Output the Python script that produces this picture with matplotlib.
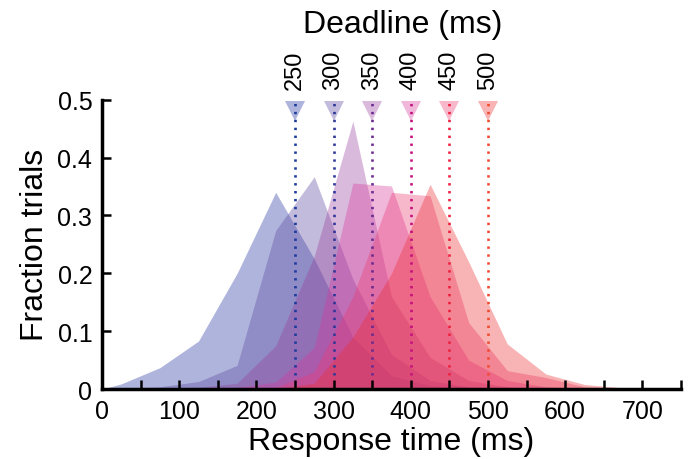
import matplotlib
matplotlib.use('Agg')
import matplotlib.pyplot as plt
import numpy as np

plt.rcParams['font.family'] = ['Liberation Sans', 'DejaVu Sans']

# response time bin centres (ms)
rt = [0, 25, 75, 125, 175, 225, 275, 325, 375, 425, 475, 525, 575, 625, 675, 725]

# fraction of trials for each deadline condition
frac250 = [0, .009, .037, .083, .200, .340, .225, .090, .023, .006, .002, 0, 0, 0, 0, 0]
frac300 = [0, .001, .004, .013, .041, .274, .367, .190, .060, .015, .004, .001, 0, 0, 0, 0]
frac350 = [0, 0, .001, .003, .010, .075, .230, .463, .160, .055, .015, .004, .001, 0, 0, 0]
frac400 = [0, 0, 0, .001, .003, .012, .072, .356, .351, .160, .050, .015, .004, .001, 0, 0]
frac450 = [0, 0, 0, 0, .001, .003, .030, .160, .340, .334, .115, .032, .020, .004, .001, 0]
frac500 = [0, 0, 0, 0, 0, .001, .010, .090, .200, .354, .220, .078, .026, .008, .002, 0]

deadlines = [250, 300, 350, 400, 450, 500]
fill_cols = ['#23319e', '#5b459e', '#98409e', '#d8389c', '#ec3a72', '#ec2f33']
line_cols = ['#1c3a9c', '#2e3698', '#6a2a90', '#c4107c', '#ee2040', '#f04a30']

fig = plt.figure(figsize=(6.92, 4.60), dpi=100)
ax = fig.add_axes([0.1474, 0.152, 0.8366, 0.629])

allfrac = [frac250, frac300, frac350, frac400, frac450, frac500]
for i in range(6):
	ax.fill_between(rt, 0, allfrac[i], color=fill_cols[i], alpha=0.36, lw=0)

for i in range(6):
	d = deadlines[i]
	ax.plot(d, 0.481, marker='v', ms=14, color=fill_cols[i], alpha=0.36,
		mew=0, clip_on=False, zorder=4)
	ax.plot([d, d], [0.025, 0.5], color=line_cols[i], lw=1.9,
		linestyle=(0, (0.9, 2.1)), zorder=5, clip_on=False)
	ax.text(d, 0.519, str(d), rotation=90, ha='center', va='bottom',
		fontsize=17)

ax.text(389, 0.617, 'Deadline (ms)', ha='center', va='baseline', fontsize=23)

ax.set_xlim(0, 750)
ax.set_ylim(0, 0.5)
xt = list(range(0, 751, 50))
ax.set_xticks(xt)
ax.set_xticklabels([str(v) if v % 100 == 0 and v < 750 else '' for v in xt])
ax.set_yticks([0, 0.1, 0.2, 0.3, 0.4, 0.5])
ax.set_yticklabels(['0', '0.1', '0.2', '0.3', '0.4', '0.5'])
ax.tick_params(direction='in', length=6.5, width=1.8, labelsize=18, pad=7)
for s in ['top', 'right']:
	ax.spines[s].set_visible(False)
for s in ['left', 'bottom']:
	ax.spines[s].set_linewidth(2.5)

ax.set_xlabel('Response time (ms)', fontsize=23, labelpad=2)
ax.set_ylabel('Fraction trials', fontsize=23, labelpad=5)

fig.savefig('out.png', dpi=100)
